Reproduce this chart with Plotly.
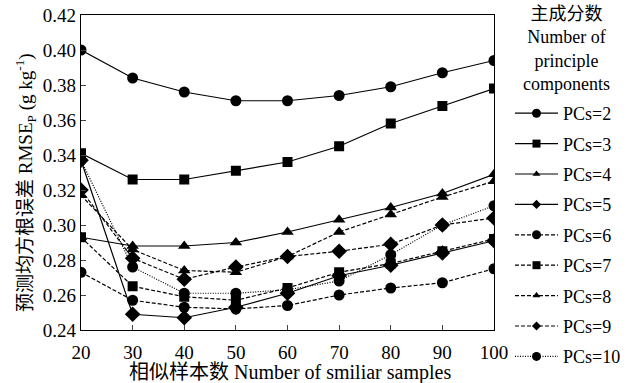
import plotly.graph_objects as go

samples = [20, 30, 40, 50, 60, 70, 80, 90, 100]
pcs2 = [0.400, 0.384, 0.376, 0.371, 0.371, 0.374, 0.379, 0.387, 0.394]
pcs3 = [0.341, 0.326, 0.326, 0.331, 0.336, 0.345, 0.358, 0.368, 0.378]
pcs4 = [0.293, 0.288, 0.288, 0.290, 0.296, 0.303, 0.310, 0.318, 0.329]
pcs5 = [0.337, 0.249, 0.247, 0.253, 0.261, 0.271, 0.277, 0.284, 0.291]
pcs6 = [0.273, 0.257, 0.253, 0.252, 0.254, 0.260, 0.264, 0.267, 0.275]
pcs7 = [0.293, 0.265, 0.259, 0.257, 0.264, 0.273, 0.278, 0.285, 0.292]
pcs8 = [0.317, 0.286, 0.274, 0.273, 0.282, 0.296, 0.306, 0.316, 0.325]
pcs9 = [0.320, 0.281, 0.269, 0.276, 0.282, 0.285, 0.289, 0.300, 0.304]
pcs10 = [0.337, 0.276, 0.261, 0.261, 0.263, 0.268, 0.283, 0.300, 0.311]

series_names = ["PCs=2", "PCs=3", "PCs=4", "PCs=5", "PCs=6", "PCs=7", "PCs=8", "PCs=9", "PCs=10"]
series_values = [pcs2, pcs3, pcs4, pcs5, pcs6, pcs7, pcs8, pcs9, pcs10]
symbols = ["circle", "square", "triangle-up", "diamond", "circle", "square", "triangle-up", "diamond", "circle"]
dashes = ["solid", "solid", "solid", "solid", "4px,2px", "4px,2px", "4px,2px", "4px,2px", "1px,1.5px"]
msizes = [11, 10, 11, 12, 11, 10, 11, 12, 11]
leg_sizes = [9, 8, 7, 7, 9, 8, 7, 7, 9]

FONT = "Liberation Serif, Times New Roman, Noto Sans CJK SC, serif"

fig = go.Figure()
for name, vals, sym, dash, ms in zip(series_names, series_values, symbols, dashes, msizes):
    fig.add_trace(go.Scatter(
        x=samples, y=vals, mode="lines+markers", name=name, showlegend=False,
        line=dict(color="black", width=1.2, dash=dash),
        marker=dict(symbol=sym, size=ms, color="black"),
    ))
# legend-only entries (smaller markers as in the reference legend)
for name, sym, dash, ls in zip(series_names, symbols, dashes, leg_sizes):
    fig.add_trace(go.Scatter(
        x=[None], y=[None], mode="lines+markers", name=name, legendgroup=name,
        line=dict(color="black", width=1.2, dash=dash),
        marker=dict(symbol=sym, size=ls, color="black"),
    ))

L, R, T, B = 81, 142, 15, 53
W, H = 636, 383
pw = W - L - R
ph = H - T - B

def px_x(px):
    return (px - L) / pw

def px_y(py):
    return (H - B - py) / ph

fig.update_layout(
    width=W, height=H,
    margin=dict(l=L, r=R, t=T, b=B, autoexpand=False),
    paper_bgcolor="white", plot_bgcolor="white",
    font=dict(family=FONT, size=19, color="black"),
    legend=dict(
        x=px_x(510), y=px_y(95), xanchor="left", yanchor="top",
        font=dict(size=18, family=FONT),
        tracegroupgap=4.0, bgcolor="rgba(0,0,0,0)", itemwidth=43,
    ),
    xaxis=dict(
        range=[20, 100], tickvals=samples, ticks="inside", ticklen=5, tickwidth=1,
        showline=True, linecolor="black", linewidth=1.3, mirror=True,
        showgrid=False, zeroline=False, ticklabelstandoff=5,
        tickfont=dict(size=19),
    ),
    yaxis=dict(
        range=[0.24, 0.42], dtick=0.02, tickformat=".2f", ticks="inside", ticklen=5, tickwidth=1,
        showline=True, linecolor="black", linewidth=1.3, mirror=True,
        showgrid=False, zeroline=False,
        tickfont=dict(size=19),
    ),
)

# x axis title
fig.add_annotation(
    text="相似样本数 Number of smiliar samples", xref="paper", yref="paper",
    x=px_x(290), y=px_y(372), xanchor="center", yanchor="middle",
    showarrow=False, font=dict(size=20, family=FONT),
)

# y axis title
fig.add_annotation(
    text="预测均方根误差 RMSE<sub>P</sub> (g kg<sup>-1</sup>)", xref="paper", yref="paper",
    x=px_x(25), y=px_y(183), textangle=-90, xanchor="center", yanchor="middle",
    showarrow=False, font=dict(size=19, family=FONT),
)

# legend title
fig.add_annotation(
    text="主成分数<br>Number of<br>principle<br>components", xref="paper", yref="paper",
    x=px_x(566), y=px_y(49), xanchor="center", yanchor="middle", align="center",
    showarrow=False, font=dict(size=18, family=FONT),
)

fig.write_html("out.html")
